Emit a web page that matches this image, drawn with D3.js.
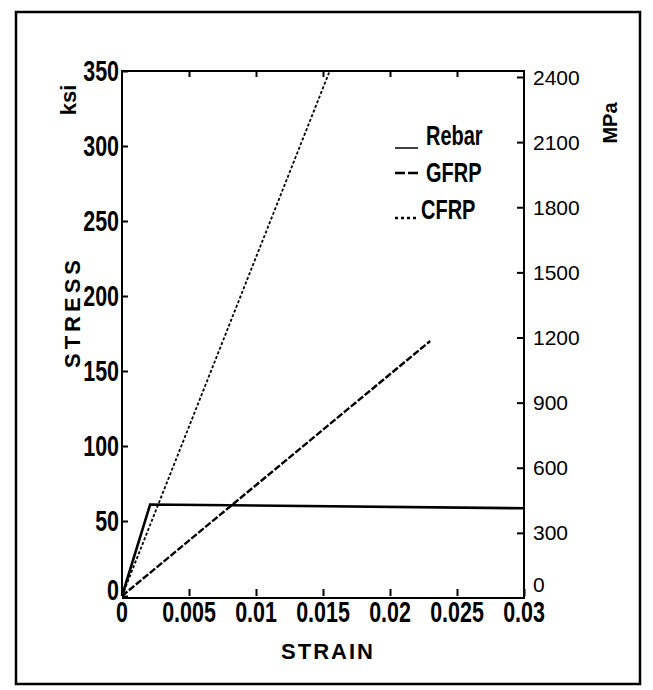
<!DOCTYPE html>
<html>
<head>
<meta charset="utf-8">
<script src="https://cdn.jsdelivr.net/npm/d3@7"></script>
<style>
  body { margin: 0; background: #fff; }
  text { fill: #000; }
</style>
</head>
<body>
<div id="chart"></div>
<script>
const strainTicks = [0, 0.005, 0.01, 0.015, 0.02, 0.025, 0.03];
const ksiTicks = [0, 50, 100, 150, 200, 250, 300, 350];
const mpaTicks = [0, 300, 600, 900, 1200, 1500, 1800, 2100, 2400];

// [strain, stress ksi]
const rebar = [[0, 0], [0.0021, 61], [0.03, 58.5]];
const gfrp = [[0, 0], [0.023, 170]];
const cfrp = [[0, 0], [0.0155, 350]];

const legendNames = ["Rebar", "GFRP", "CFRP"];

const width = 653, height = 690;
const sans = "'Liberation Sans', Arial, sans-serif";
const squeeze = 0.74; // fake a condensed face

const svg = d3.select("#chart")
    .append("svg")
    .attr("width", width)
    .attr("height", height);

const x = d3.scaleLinear().domain([0, 0.03]).range([122, 524]);
const y = d3.scaleLinear().domain([0, 350]).range([596, 71]);
const yMpa = d3.scaleLinear().domain([0, 2400]).range([598, 77]);

// narrow bold text helper
function narrowText(sel, tx, ty, size, anchor) {
    return sel.append("text")
        .attr("transform", `translate(${tx},${ty}) scale(${squeeze},1)`)
        .attr("text-anchor", anchor || "start")
        .style("font-family", sans)
        .style("font-weight", "bold")
        .style("font-size", size + "px");
}

// outer frame
svg.append("rect")
    .attr("x", 16).attr("y", 12)
    .attr("width", 624).attr("height", 672)
    .attr("fill", "none")
    .attr("stroke", "#000")
    .attr("stroke-width", 2.5);

// plot box
svg.append("path")
    .attr("d", `M${x(0)},${y(0)}V${y(350)}H${x(0.03)}V${yMpa(0)}H${x(0)}`)
    .attr("fill", "none")
    .attr("stroke", "#000")
    .attr("stroke-width", 2);

// bottom axis, inward ticks
svg.append("g")
    .attr("transform", `translate(0,${y(0)})`)
    .call(d3.axisTop(x).tickValues(strainTicks).tickSize(7).tickFormat(""))
    .call(g => g.select(".domain").remove())
    .selectAll("line").attr("stroke-width", 2);

svg.append("g")
    .attr("transform", `translate(0,${y(350)})`)
    .call(d3.axisBottom(x).tickValues(strainTicks.slice(1, -1)).tickSize(6).tickFormat(""))
    .call(g => g.select(".domain").remove())
    .selectAll("line").attr("stroke-width", 2);

strainTicks.forEach(d => {
    narrowText(svg, x(d), 622, 29, "middle").text(d);
});

// left axis
svg.append("g")
    .attr("transform", `translate(${x(0)},0)`)
    .call(d3.axisRight(y).tickValues(ksiTicks).tickSize(6).tickFormat(""))
    .call(g => g.select(".domain").remove())
    .selectAll("line").attr("stroke-width", 2);

ksiTicks.forEach(d => {
    narrowText(svg, 119, (d === 0 ? y(d) - 6 : y(d)) + 10, 29, "end").text(d);
});

// right axis (MPa)
svg.append("g")
    .attr("transform", `translate(${x(0.03)},0)`)
    .call(d3.axisLeft(yMpa).tickValues(mpaTicks.slice(1)).tickSize(7).tickFormat(""))
    .call(g => g.select(".domain").remove())
    .selectAll("line").attr("stroke-width", 2);

svg.selectAll(".mlab")
    .data(mpaTicks)
    .enter()
    .append("text")
    .attr("class", "mlab")
    .attr("x", 533)
    .attr("y", d => d === 0 ? yMpa(d) - 14 : yMpa(d))
    .attr("dy", "0.36em")
    .style("font-family", sans)
    .style("font-size", "21px")
    .text(d => d);

// axis titles
svg.append("text")
    .attr("transform", "translate(76,100) rotate(-90)")
    .attr("text-anchor", "middle")
    .style("font-family", sans)
    .style("font-weight", "bold")
    .style("font-size", "22px")
    .text("ksi");

svg.append("text")
    .attr("transform", "translate(80,312) rotate(-90)")
    .attr("text-anchor", "middle")
    .style("font-family", sans)
    .style("font-weight", "bold")
    .style("font-size", "22px")
    .style("letter-spacing", "4px")
    .text("STRESS");

svg.append("text")
    .attr("transform", "translate(617,123) rotate(-90)")
    .attr("text-anchor", "middle")
    .style("font-family", sans)
    .style("font-weight", "bold")
    .style("font-size", "20px")
    .text("MPa");

svg.append("text")
    .attr("x", 328)
    .attr("y", 659)
    .attr("text-anchor", "middle")
    .style("font-family", sans)
    .style("font-weight", "bold")
    .style("font-size", "22px")
    .style("letter-spacing", "2px")
    .text("STRAIN");

// curves
const line = d3.line().x(d => x(d[0])).y(d => y(d[1]));

const series = [
    { data: rebar, dash: null, w: 2.6 },
    { data: gfrp, dash: "7,2", w: 2.4 },
    { data: cfrp, dash: "3,2", w: 1.8 }
];

svg.selectAll(".curve")
    .data(series)
    .enter()
    .append("path")
    .attr("class", "curve")
    .attr("d", d => line(d.data))
    .attr("fill", "none")
    .attr("stroke", "#000")
    .attr("stroke-width", d => d.w)
    .attr("stroke-dasharray", d => d.dash);

// legend
const legend = svg.append("g");
legendNames.forEach((name, i) => {
    const by = 145 + i * 37;
    const ly = i === 0 ? by + 3 : (i === 1 ? by - 9 : by - 1);
    legend.append("line")
        .attr("x1", 395).attr("x2", 418)
        .attr("y1", ly).attr("y2", ly)
        .attr("stroke", "#000")
        .attr("stroke-width", i === 0 ? 1.5 : 2.5)
        .attr("stroke-dasharray", i === 0 ? null : (i === 1 ? "10,3" : "3,3"));
    narrowText(legend, i === 2 ? 421 : 426, by, 27).text(name);
});
</script>
</body>
</html>
